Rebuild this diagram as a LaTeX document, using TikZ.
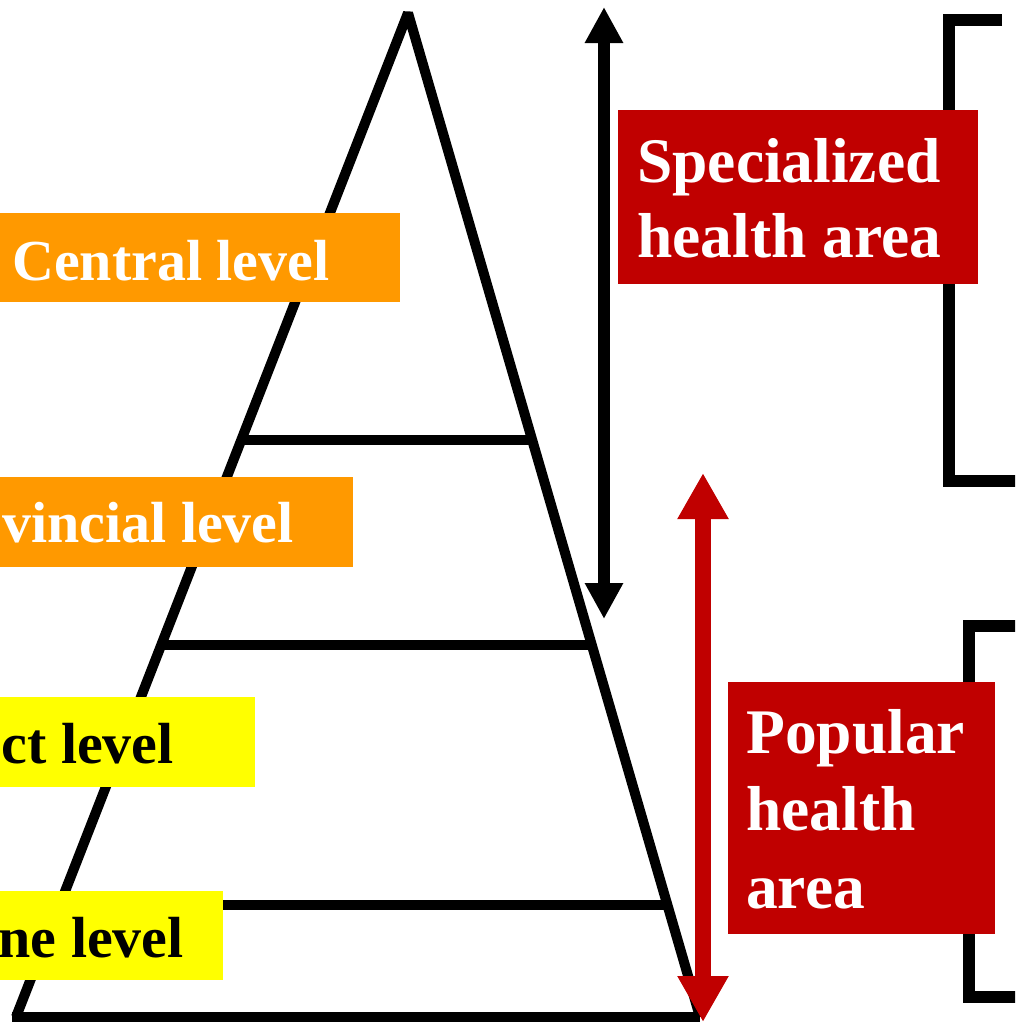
\documentclass[tikz,border=0pt]{standalone}
\usepackage{fontspec}
\setmainfont{Liberation Serif}
\usetikzlibrary{arrows.meta}
\definecolor{orng}{HTML}{FF9900}
\definecolor{yel}{HTML}{FFFF00}
\definecolor{dred}{HTML}{C00000}
\begin{document}
\begin{tikzpicture}[x=1pt,y=-1pt,
  edge/.style={line width=10pt},
  bracket/.style={line width=12pt, line join=miter},
  box/.style={inner sep=0pt, outer sep=0pt, anchor=north west},
  lefttxt/.style={inner sep=0pt, font=\bfseries\fontsize{58}{70}\selectfont},
  righttxt/.style={inner sep=0pt, text=white, font=\bfseries\fontsize{63.5}{75}\selectfont},
  blackarrow/.style={line width=12pt, {Triangle[width=36pt,length=36pt]}-{Triangle[width=36pt,length=36pt]}},
  redarrow/.style={dred, line width=16pt, {Triangle[width=48pt,length=46pt]}-{Triangle[width=48pt,length=46pt]}}
]
\useasboundingbox (0,0) rectangle (1015,1023);
\clip (0,0) rectangle (1015,1023);

% pyramid
\coordinate (apex) at (408,13);
\coordinate (bl) at (16,1017);
\coordinate (br) at (700,1017);
\draw[edge, line join=bevel] (bl) -- (apex) -- (br);
\draw[edge] (12,1017) -- (br);
\draw[edge] (241,440) -- (529,440);
\draw[edge] (165,645) -- (590,645);
\draw[edge] (60,905) -- (666,905);

% arrows
\coordinate (ba1) at (604,7);
\coordinate (ba2) at (604,619);
\draw[blackarrow] (ba1) -- (ba2);
\coordinate (ra1) at (703,473);
\coordinate (ra2) at (703,1022);
\draw[redarrow] (ra1) -- (ra2);

% brackets
\draw[bracket] (1002,20) -- (949,20) -- (949,481) -- (1025,481);
\draw[bracket] (1025,626) -- (969,626) -- (969,997) -- (1025,997);

% left label boxes
\node[box, fill=orng, minimum width=405pt, minimum height=89pt] (centralbox) at (-5,213) {};
\node[box, fill=orng, minimum width=358pt, minimum height=90pt] (provbox) at (-5,477) {};
\node[box, fill=yel, minimum width=260pt, minimum height=90pt] (distbox) at (-5,697) {};
\node[box, fill=yel, minimum width=228pt, minimum height=89pt] (commbox) at (-5,891) {};

\node[lefttxt, text=white, anchor=base west] (central) at (12,280) {Central level};
\node[lefttxt, text=white, anchor=base east] (prov) at (294,542) {vincial level};
\node[lefttxt, anchor=base east] (dist) at (174,763) {ct level};
\node[lefttxt, anchor=base east] (comm) at (184,957) {ne level};

% right label boxes
\node[box, fill=dred, minimum width=360pt, minimum height=174pt] (specbox) at (618,110) {};
\node[box, fill=dred, minimum width=267pt, minimum height=252pt] (popbox) at (728,682) {};

\node[righttxt, anchor=base west] (spec) at (637,182) {\vtop{\baselineskip=75pt\hbox{Specialized}\hbox{health area}}};
\node[righttxt, anchor=base west] (pop) at (746,753) {\vtop{\baselineskip=77.5pt\hbox{Popular}\hbox{health}\hbox{area}}};
\end{tikzpicture}
\end{document}
